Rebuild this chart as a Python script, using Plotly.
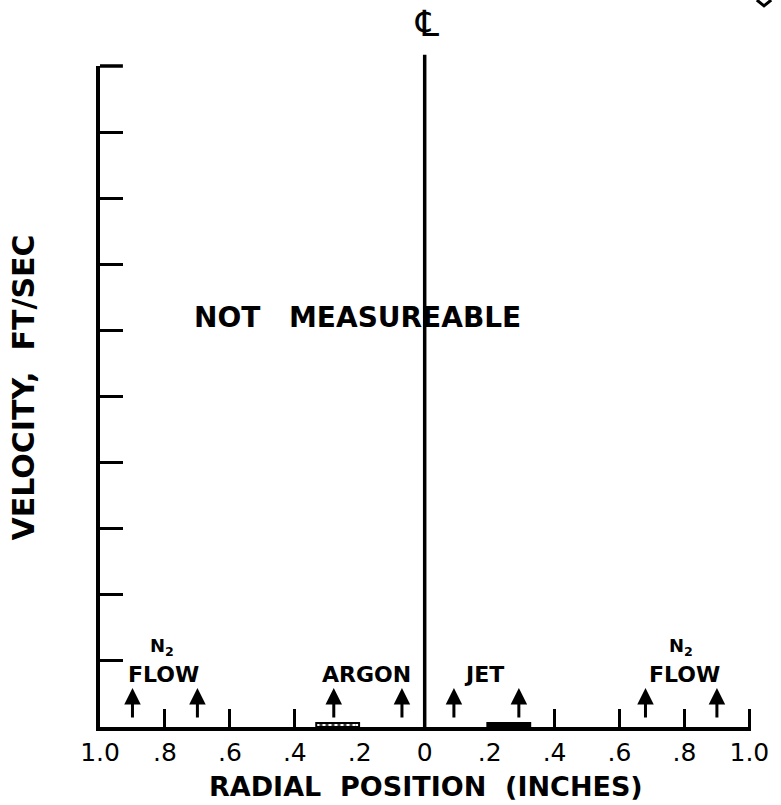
import plotly.graph_objects as go

# Axis tick positions and labels (radial position, inches, both sides of the centreline)
x_label_pos = [-1.0, -0.8, -0.6, -0.4, -0.2, 0.0, 0.2, 0.4, 0.6, 0.8, 1.0]
x_label_text = ["1.0", ".8", ".6", ".4", ".2", "0", ".2", ".4", ".6", ".8", "1.0"]
x_mark_pos = [-0.8, -0.6, -0.4, 0.4, 0.6, 0.8, 1.0]
y_mark_pos = [1, 2, 3, 4, 5, 6, 7, 8, 9]

# Flow-region arrows (radial positions) and their vertical extent
arrow_x = [-0.9, -0.7, -0.28, -0.07, 0.09, 0.29, 0.68, 0.9]
arrow_tail_y = 0.12
arrow_head_y = 0.59

# Region labels: text, x, y, size
region_text = ["N<sub>2</sub>", "FLOW", "ARGON", "JET", "N<sub>2</sub>", "FLOW"]
region_x = [-0.81, -0.805, -0.178, 0.184, 0.79, 0.80]
region_y = [1.21, 0.8, 0.8, 0.8, 1.21, 0.8]
region_size = [18, 22, 22, 22, 18, 22]

# Injector bands on the baseline
argon_band = [-0.334, -0.202]
jet_band = [0.193, 0.325]
band_height = 0.06

FONT = "DejaVu Sans"
INK = "black"

fig = go.Figure()
# invisible traces so both x axes are laid out
fig.add_trace(go.Scatter(x=[-1, 1], y=[0, 0], mode="lines", line=dict(width=0),
                         hoverinfo="skip", showlegend=False))
fig.add_trace(go.Scatter(x=[-1, 1], y=[0, 0], mode="lines", line=dict(width=0),
                         xaxis="x2", hoverinfo="skip", showlegend=False))

# centreline
fig.add_shape(type="line", xref="x", yref="paper", x0=0, x1=0, y0=0, y1=1.017,
              line=dict(color=INK, width=3.5), layer="above")

# top end of the velocity axis
fig.add_shape(type="line", xref="paper", yref="paper", x0=0, x1=23 / 654, y0=1, y1=1,
              line=dict(color=INK, width=3.5), layer="above")

# injector bands
fig.add_shape(type="rect", xref="x", yref="y", x0=argon_band[0], x1=argon_band[1],
              y0=0, y1=band_height, line=dict(color=INK, width=2), fillcolor="white",
              layer="above")
fig.add_shape(type="line", xref="x", yref="y", x0=argon_band[0] + 0.01, x1=argon_band[1] - 0.01,
              y0=band_height / 2, y1=band_height / 2,
              line=dict(color=INK, width=1.5, dash="3px,3px"), layer="above")
fig.add_shape(type="rect", xref="x", yref="y", x0=jet_band[0], x1=jet_band[1],
              y0=0, y1=band_height, line=dict(color=INK, width=2), fillcolor=INK,
              layer="above")

# small pen mark in the top-right corner
fig.add_shape(type="path", xref="paper", yref="paper",
              path="M 1.009 1.0998 L 1.02 1.091 L 1.031 1.0998",
              line=dict(color=INK, width=3))

annotations = []
for ax_ in arrow_x:
    annotations.append(dict(x=ax_, y=arrow_head_y, ax=ax_, ay=arrow_tail_y,
                            xref="x", yref="y", axref="x", ayref="y", text="",
                            showarrow=True, arrowhead=2, arrowsize=1.1, arrowwidth=3,
                            arrowcolor=INK))
for t, x, y, s in zip(region_text, region_x, region_y, region_size):
    annotations.append(dict(x=x, y=y, xref="x", yref="y", text=f"<b>{t}</b>",
                            showarrow=False, xanchor="center", yanchor="middle",
                            font=dict(family=FONT, size=s, color=INK)))

annotations.append(dict(x=-0.61, y=6.2, xref="x", yref="y", text="<b>NOT</b>",
                        showarrow=False, xanchor="center", yanchor="middle",
                        font=dict(family=FONT, size=28, color=INK)))
annotations.append(dict(x=-0.06, y=6.2, xref="x", yref="y", text="<b>MEASUREABLE</b>",
                        showarrow=False, xanchor="center", yanchor="middle",
                        font=dict(family=FONT, size=28, color=INK)))
annotations.append(dict(x=0.006, y=1.064, xref="x", yref="paper", text="℄",
                        showarrow=False, xanchor="center", yanchor="middle",
                        font=dict(family=FONT, size=36, color=INK)))
annotations.append(dict(x=0.5015, y=-0.09, xref="paper", yref="paper",
                        text="<b>RADIAL  POSITION  (INCHES)</b>", showarrow=False,
                        xanchor="center", yanchor="middle",
                        font=dict(family=FONT, size=27, color=INK)))
annotations.append(dict(x=-0.118, y=0.514, xref="paper", yref="paper",
                        text="<b>VELOCITY,  FT/SEC</b>", showarrow=False, textangle=-90,
                        xanchor="center", yanchor="middle",
                        font=dict(family=FONT, size=30, color=INK)))

fig.update_layout(
    width=781, height=805,
    margin=dict(l=100, r=27, t=66, b=78),
    paper_bgcolor="white", plot_bgcolor="white",
    showlegend=False,
    xaxis=dict(range=[-1.0, 1.005], tickvals=x_label_pos, ticktext=x_label_text,
               ticks="", showgrid=False, zeroline=False, showline=True,
               linecolor=INK, linewidth=4, ticklabelstandoff=0,
               tickfont=dict(family=FONT, size=25, color=INK), fixedrange=True),
    xaxis2=dict(range=[-1.0, 1.005], overlaying="x", anchor="y", side="bottom",
                tickvals=x_mark_pos, ticks="inside", ticklen=18, tickwidth=3,
                tickcolor=INK, showticklabels=False, showgrid=False,
                zeroline=False, showline=False, fixedrange=True),
    yaxis=dict(range=[0, 10], tickvals=y_mark_pos, ticks="inside", ticklen=23,
               tickwidth=3, tickcolor=INK, showticklabels=False, showgrid=False,
               zeroline=False, showline=True, linecolor=INK, linewidth=4,
               fixedrange=True),
    annotations=annotations,
)

fig.write_html("out.html")
